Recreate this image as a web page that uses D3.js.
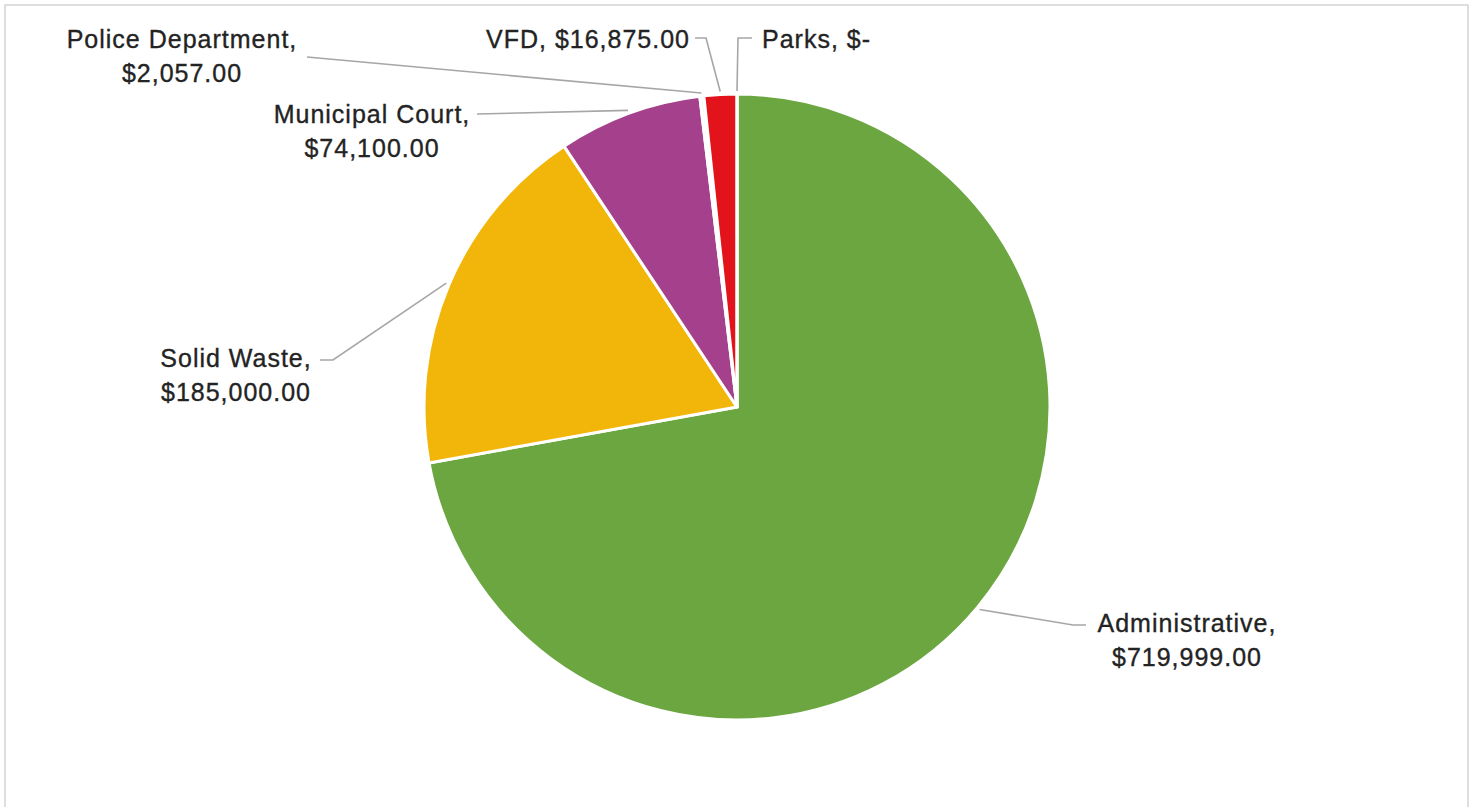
<!DOCTYPE html>
<html>
<head>
<meta charset="utf-8">
<script src="https://cdn.jsdelivr.net/npm/d3@7"></script>
<style>
  html, body { margin: 0; padding: 0; background: #ffffff; }
  svg { display: block; }
  text { font-family: "Liberation Sans", Arial, sans-serif; fill: #232323; white-space: pre; }
</style>
</head>
<body>
<svg id="chart" width="1472" height="807"></svg>
<script>
// Departmental budget amounts
const departments = ["Administrative", "Solid Waste", "Municipal Court", "Police Department", "VFD", "Parks"];
const amounts = [719999, 185000, 74100, 2057, 16875, 0];
const sliceColors = ["#6ca640", "#f2b60a", "#a5408c", "#f6f6f6", "#e3131b", "#4472c4"];

// Label text layout: anchor point, alignment, whether value sits on a second line,
// and the bend point(s) of each leader line before it runs to the slice edge.
const labelLayout = {
  "Administrative":    { x: 1187, y: 632, anchor: "middle", twoLine: true,  leader: [[1086, 625], [1073, 625]] },
  "Solid Waste":       { x: 236,  y: 367, anchor: "middle", twoLine: true,  leader: [[320, 360], [333, 360]] },
  "Municipal Court":   { x: 372,  y: 123, anchor: "middle", twoLine: true,  leader: [[477, 114]] },
  "Police Department": { x: 182,  y: 48,  anchor: "middle", twoLine: true,  leader: [[307, 57]] },
  "VFD":               { x: 486,  y: 48,  anchor: "start",  twoLine: false, leader: [[695, 38], [706, 38]] },
  "Parks":             { x: 762,  y: 48,  anchor: "start",  twoLine: false, leader: [[752, 38], [738, 38]] }
};

const width = 1472, height = 807;
const cx = 737, cy = 407, radius = 313;
const lineGap = 34;

const svg = d3.select("#chart");

// chart area frame
svg.append("rect")
  .attr("x", 5).attr("y", 5)
  .attr("width", 1463).attr("height", 810)
  .attr("fill", "none")
  .attr("stroke", "#d4d4d4")
  .attr("stroke-width", 1.5);

const data = departments.map((name, i) => ({ name, value: amounts[i], color: sliceColors[i] }));

const pie = d3.pie().sort(null).value(d => d.value).startAngle(0).endAngle(2 * Math.PI);
const arcs = pie(data);

const arc = d3.arc().innerRadius(0).outerRadius(radius);
const edgeArc = d3.arc().innerRadius(radius + 3).outerRadius(radius + 3);

const g = svg.append("g").attr("transform", `translate(${cx},${cy})`);

g.selectAll("path.slice")
  .data(arcs)
  .join("path")
  .attr("class", "slice")
  .attr("d", arc)
  .attr("fill", d => d.data.color)
  .attr("stroke", "#ffffff")
  .attr("stroke-width", 3)
  .attr("stroke-linejoin", "round");

// money formatting in accounting style; zero shows as a dash
const money = v => v === 0 ? "$-" : "$" + d3.format(",.2f")(v);

// leader lines
const line = d3.line();
svg.selectAll("path.leader")
  .data(arcs)
  .join("path")
  .attr("class", "leader")
  .attr("d", d => {
    const lay = labelLayout[d.data.name];
    const [ex, ey] = edgeArc.centroid(d);
    return line([...lay.leader, [cx + ex, cy + ey]]);
  })
  .attr("fill", "none")
  .attr("stroke", "#a6a6a6")
  .attr("stroke-width", 1.6);

// data labels
const labels = svg.selectAll("text.label")
  .data(arcs)
  .join("text")
  .attr("class", "label")
  .attr("font-size", 25)
  .attr("letter-spacing", 1)
  .attr("stroke", "#232323")
  .attr("stroke-width", 0.35)
  .attr("text-anchor", d => labelLayout[d.data.name].anchor);

labels.each(function (d) {
  const lay = labelLayout[d.data.name];
  const t = d3.select(this);
  if (lay.twoLine) {
    t.append("tspan").attr("x", lay.x).attr("y", lay.y).text(d.data.name + ",");
    t.append("tspan").attr("x", lay.x).attr("y", lay.y + lineGap).text(money(d.data.value));
  } else {
    t.append("tspan").attr("x", lay.x).attr("y", lay.y).text(d.data.name + ", " + money(d.data.value));
  }
});
</script>
</body>
</html>
